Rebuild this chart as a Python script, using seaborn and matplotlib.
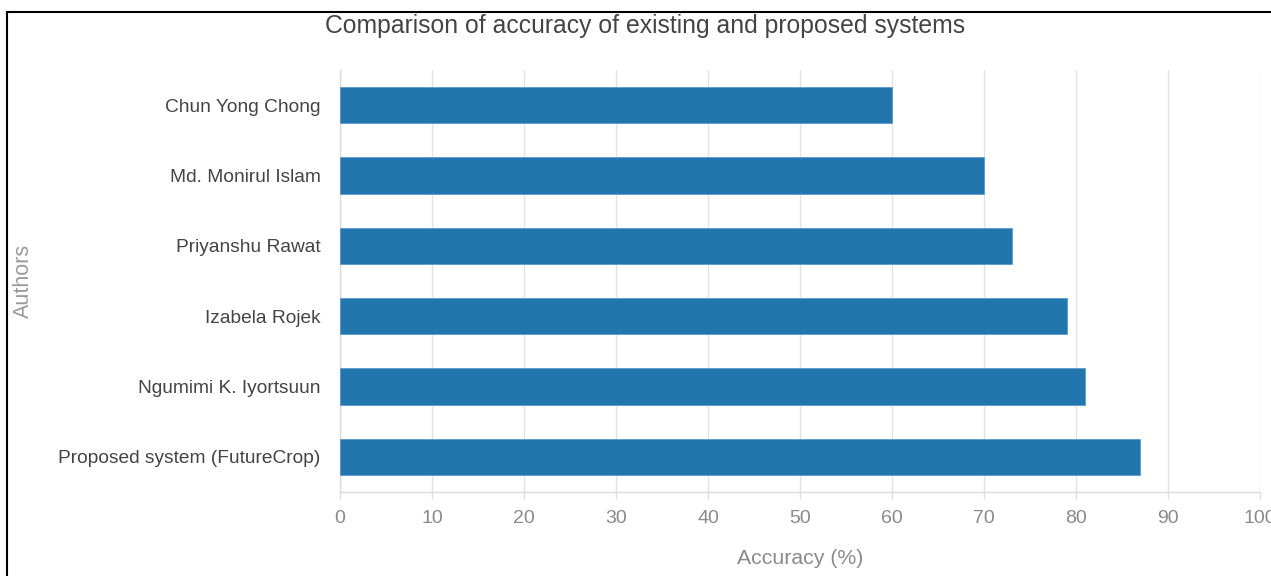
import matplotlib
matplotlib.use("Agg")
import matplotlib.pyplot as plt
import seaborn as sns
import pandas as pd
from matplotlib.patches import Rectangle

authors = ["Chun Yong Chong", "Md. Monirul Islam", "Priyanshu Rawat",
           "Izabela Rojek", "Ngumimi K. Iyortsuun", "Proposed system (FutureCrop)"]
accuracy = [60, 70, 73, 79, 81, 87]
x_ticks = [0, 10, 20, 30, 40, 50, 60, 70, 80, 90, 100]

df = pd.DataFrame({"Authors": authors, "Accuracy": accuracy})

sns.set_theme(style="white")
plt.rcParams['font.family'] = ['Liberation Sans', 'DejaVu Sans']

W, H = 1271, 576
fig = plt.figure(figsize=(W / 100, H / 100), dpi=100)
ax = fig.add_axes([340 / W, 1 - 492 / H, (1260 - 340) / W, (492 - 70) / H])

sns.barplot(data=df, y="Authors", x="Accuracy", orient="h", color="#2275ad",
            saturation=1, width=0.52, ax=ax, edgecolor="#5b9bd0", linewidth=0.6,
            zorder=3)

ax.set_xlim(0, 100)
ax.set_xticks(x_ticks)
ax.set_xticklabels([str(t) for t in x_ticks])
ax.grid(axis="x", color="#e3e3e3", linewidth=1.0, zorder=0)
ax.grid(axis="y", visible=False)
for s in ["top", "right"]:
    ax.spines[s].set_visible(False)
for s in ["left", "bottom"]:
    ax.spines[s].set_color("#dcdcdc")
    ax.spines[s].set_linewidth(1.0)

ax.tick_params(axis="x", colors="#dcdcdc", length=5, width=1.0, labelcolor="#8a8a8a",
               labelsize=14, pad=8, bottom=True)
ax.tick_params(axis="y", length=0, labelcolor="#444444", labelsize=13.8, pad=14)

ax.set_xlabel("Accuracy (%)", color="#8a8a8a", fontsize=15.3, labelpad=16)
ax.set_ylabel("Authors", color="#9a9a9a", fontsize=15.5, labelpad=0)
ax.yaxis.set_label_coords((34 - 340) / (1260 - 340), 0.5)

fig.text(645 / W, 1 - 26 / H, "Comparison of accuracy of existing and proposed systems",
         ha="center", va="center", fontsize=17.8, color="#444444")

fig.patches.append(Rectangle((7 / W, -0.05), 1.2, 1 - 12 / H + 0.05,
                             transform=fig.transFigure, fill=False,
                             edgecolor="black", linewidth=1.5, clip_on=False))

fig.savefig("out.png", dpi=100, facecolor="white")
